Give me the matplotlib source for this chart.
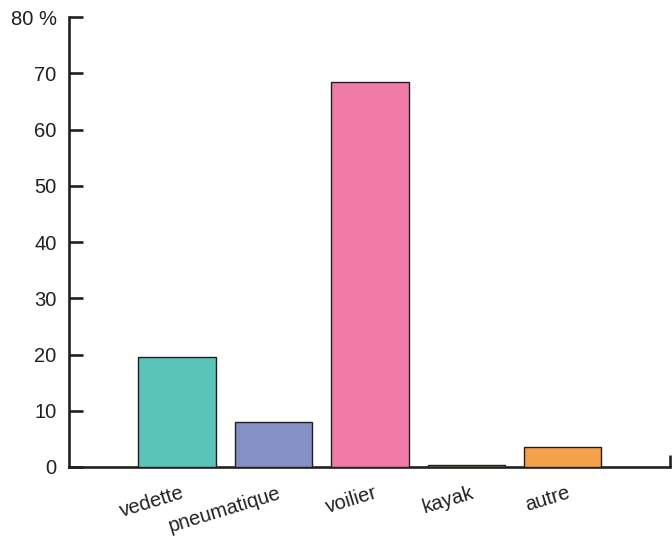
import numpy as np
from matplotlib import pyplot as plt
from matplotlib.transforms import ScaledTranslation

plt.rcParams['font.family'] = ['Liberation Sans', 'DejaVu Sans']

categories = ['vedette', 'pneumatique', 'voilier', 'kayak', 'autre']
values = [19.6, 8.0, 68.5, 0.4, 3.6]
colors = ['#5bc4b8', '#8491c5', '#f07ba7', '#5a7b3c', '#f5a04a']
yticks = [0, 10, 20, 30, 40, 50, 60, 70, 80]
ylabels = ['0', '10', '20', '30', '40', '50', '60', '70', '80 %']

axcol = '#231f20'

fig = plt.figure(figsize=(6.72, 5.38), dpi=100)
ax = fig.add_axes([0.1027, 0.132, 0.8943, 0.836])

x = np.arange(len(categories))
ax.bar(x, values, width=0.8, color=colors, edgecolor=axcol, linewidth=1.0, zorder=3)

ax.set_xlim(-1.12, 5.11)
ax.set_ylim(0, 80)

for s in ['top', 'right']:
    ax.spines[s].set_visible(False)
for s in ['left', 'bottom']:
    ax.spines[s].set_linewidth(1.9)
    ax.spines[s].set_color(axcol)

ax.set_yticks(yticks, ylabels)
ax.tick_params(axis='y', direction='in', length=10, width=1.9, color=axcol,
               labelsize=14.5, pad=9, labelcolor=axcol)

ax.set_xticks(x, categories)
ax.tick_params(axis='x', which='major', length=0, labelsize=14.5, pad=12, labelcolor=axcol)
shift = ScaledTranslation(7 / 72, 0, fig.dpi_scale_trans)
for lbl in ax.get_xticklabels():
    lbl.set_rotation(17)
    lbl.set_ha('right')
    lbl.set_transform(lbl.get_transform() + shift)

ax.set_xticks([5.11], minor=True)
ax.tick_params(axis='x', which='minor', direction='in', length=9, width=1.9, color=axcol)

fig.savefig('out.png', dpi=100)
